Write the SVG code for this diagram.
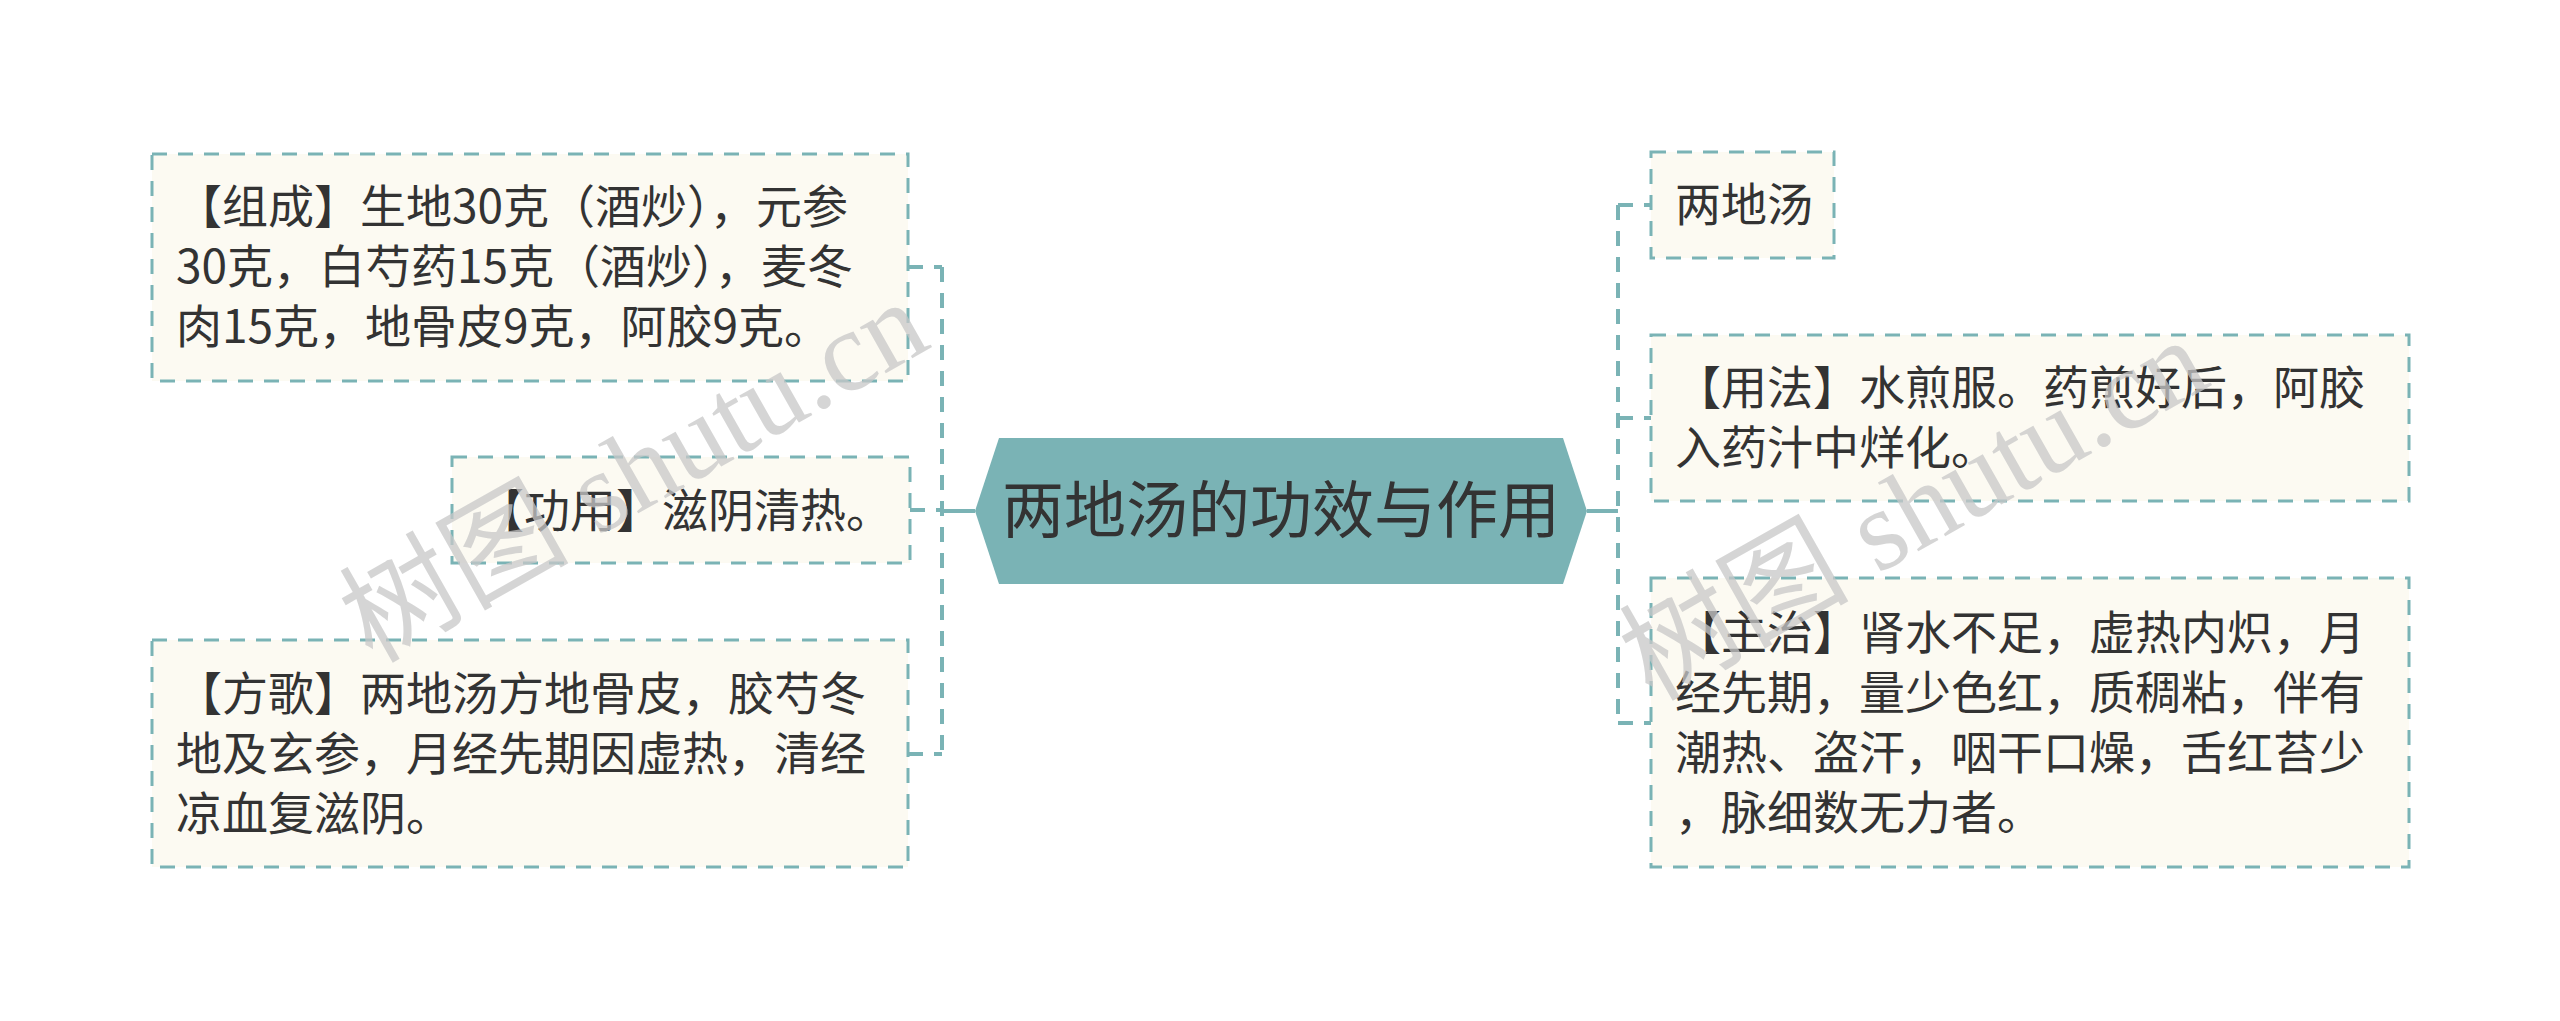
<svg xmlns="http://www.w3.org/2000/svg" width="2560" height="1021" viewBox="0 0 2560 1021">
<style>
.box{fill:#fcfaf2;stroke:#7ab3b5;stroke-width:3;stroke-dasharray:15 11}
.t{font-family:"Noto Sans CJK SC","Noto Sans",sans-serif;font-size:46px;fill:#333}
.title{font-family:"Noto Sans CJK SC","Noto Sans",sans-serif;font-size:62px;fill:#333}
.dash{fill:none;stroke:#7ab3b5;stroke-width:4;stroke-dasharray:15 11}
.solid{fill:none;stroke:#7ab3b5;stroke-width:4}
.wm{font-family:"Liberation Serif","Noto Sans CJK SC",serif;font-size:115px;fill:#c8c8c8;opacity:0.75}
</style>
<rect width="2560" height="1021" fill="#ffffff"/>
<g id="connectors">
<path class="solid" d="M942 511 H975"/>
<path class="dash" d="M942 267 V754"/>
<path class="dash" d="M908 267 H942 M910 510 H942 M908 754 H942"/>
<path class="solid" d="M1587 511 H1618"/>
<path class="dash" d="M1618 205 V723"/>
<path class="dash" d="M1618 205 H1651 M1618 418 H1651 M1618 723 H1651"/>
</g>
<g id="center">
<polygon points="975,511 999,438 1563,438 1587,511 1563,584 999,584" fill="#7ab3b5"/>
<text class="title" x="1281" y="533" text-anchor="middle">两地汤的功效与作用</text>
</g>
<g id="node-zucheng">
<rect class="box" x="152" y="154" width="756" height="227"/>
<text class="t" x="176" y="223">【组成】生地30克（酒炒），元参</text>
<text class="t" x="176" y="283">30克，白芍药15克（酒炒），麦冬</text>
<text class="t" x="176" y="343">肉15克，地骨皮9克，阿胶9克。</text>
</g>
<g id="node-gongyong">
<rect class="box" x="452" y="457" width="458" height="106"/>
<text class="t" x="478" y="527">【功用】滋阴清热。</text>
</g>
<g id="node-fangge">
<rect class="box" x="152" y="640" width="756" height="227"/>
<text class="t" x="176" y="710">【方歌】两地汤方地骨皮，胶芍冬</text>
<text class="t" x="176" y="770">地及玄参，月经先期因虚热，清经</text>
<text class="t" x="176" y="830">凉血复滋阴。</text>
</g>
<g id="node-liangditang">
<rect class="box" x="1651" y="152" width="183" height="106"/>
<text class="t" x="1675" y="221">两地汤</text>
</g>
<g id="node-yongfa">
<rect class="box" x="1651" y="335" width="758" height="166"/>
<text class="t" x="1675" y="404">【用法】水煎服。药煎好后，阿胶</text>
<text class="t" x="1675" y="464">入药汁中烊化。</text>
</g>
<g id="node-zhuzhi">
<rect class="box" x="1651" y="578" width="758" height="289"/>
<text class="t" x="1675" y="649">【主治】肾水不足，虚热内炽，月</text>
<text class="t" x="1675" y="709">经先期，量少色红，质稠粘，伴有</text>
<text class="t" x="1675" y="769">潮热、盗汗，咽干口燥，舌红苔少</text>
<text class="t" x="1675" y="829">，脉细数无力者。</text>
</g>
<g id="watermark">
<text class="wm" transform="translate(372 664) rotate(-29.5)">树图 shutu.cn</text>
<text class="wm" transform="translate(1652 702) rotate(-29.5)">树图 shutu.cn</text>
</g>
</svg>
